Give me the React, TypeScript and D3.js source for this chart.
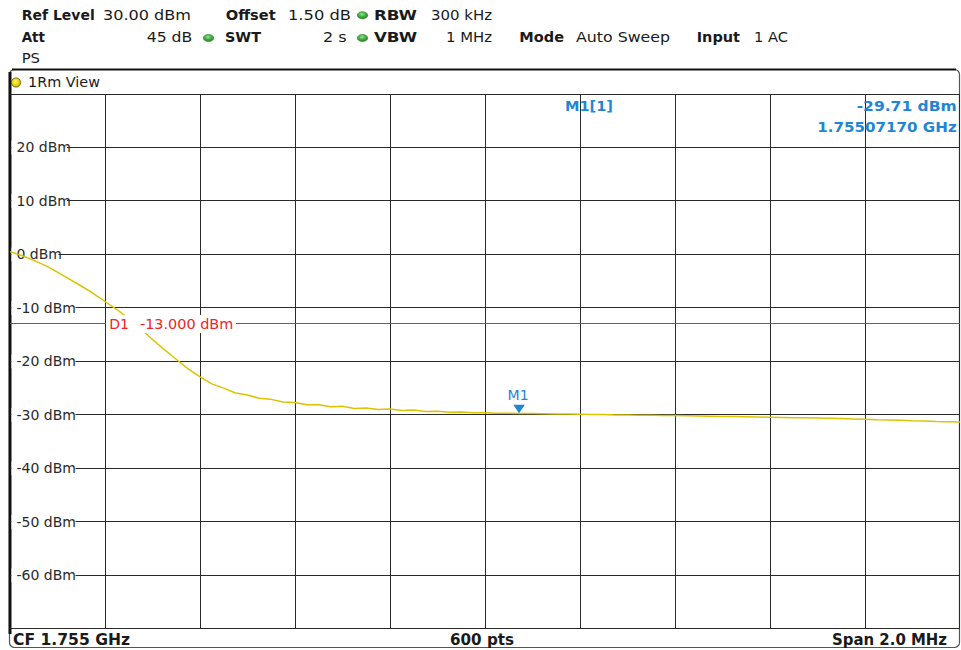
import React from "react";
import * as d3 from "d3";

// ---------- data ----------
const centerGHz = 1.755;
const spanMHz = 2.0;
const sweepPointsLabel = "600 pts";
const refLevel = 30;
const bottomLevel = -70;
const levels = [
  0.5, -0.2, -1.1, -2.1, -3.3, -4.6, -5.9, -7.3, -8.8, -10.3,
  -12.0, -13.9, -15.9, -17.8, -19.6, -21.4, -22.9, -24.2, -25.0, -25.9,
  -26.3, -26.9, -27.1, -27.6, -27.7, -28.1, -28.1, -28.5, -28.4, -28.8,
  -28.7, -29.0, -28.9, -29.2, -29.1, -29.35, -29.3, -29.5, -29.45, -29.6,
  -29.6, -29.7, -29.68, -29.72, -29.75, -29.8, -29.85, -29.85, -29.9, -29.95,
  -29.95, -30.0, -30.0, -30.05, -30.05, -30.1, -30.1, -30.15, -30.2, -30.25,
  -30.3, -30.3, -30.35, -30.4, -30.45, -30.5, -30.55, -30.55, -30.6, -30.65,
  -30.7, -30.75, -30.8, -30.9, -30.95, -31.0, -31.1, -31.15, -31.25, -31.3,
  -31.35,
];
const yTickValues = [20, 10, 0, -10, -20, -30, -40, -50, -60];
const displayLineLevel = -13;
const displayLineName = "D1";
const displayLineText = "-13.000 dBm";
const markerName = "M1";
const markerFreqGHz = 1.7550717;
const markerLevel = -29.71;
const markerReadout = ["M1[1]", "-29.71 dBm", "1.75507170 GHz"];
const headerLabels = ["Ref Level", "Offset", "RBW", "Att", "SWT", "VBW", "Mode", "Input", "PS"];
const headerValues = ["30.00 dBm", "1.50 dB", "300 kHz", "45 dB", "2 s", "1 MHz", "Auto Sweep", "1 AC"];
const windowTitle = "1Rm View";
const footer = ["CF 1.755 GHz", sweepPointsLabel, "Span 2.0 MHz"];

const FONT = "'DejaVu Sans', Verdana, sans-serif";
const FONT_C = "'DejaVu Sans Condensed', 'Liberation Sans Narrow', 'DejaVu Sans', sans-serif";
const BLUE = "#1f86d6";
const RED = "#f02424";
const TRACE = "#dcc300";

type TP = {
  x: number; y: number; w?: number; bold?: boolean; fill?: string; size?: number;
  anchor?: "start" | "middle" | "end"; family?: string; children: React.ReactNode;
};
const T = ({ x, y, w, bold, fill = "#1a1a1a", size = 14, anchor = "start", family = FONT, children }: TP) => (
  <text
    x={x}
    y={y}
    fontFamily={family}
    fontSize={size}
    fontWeight={bold ? "bold" : "normal"}
    fill={fill}
    textAnchor={anchor}
    textLength={w}
    lengthAdjust={w ? "spacingAndGlyphs" : undefined}
  >
    {children}
  </text>
);

const Dot = ({ cx, cy }: { cx: number; cy: number }) => (
  <ellipse cx={cx} cy={cy} rx={5.2} ry={3.6} fill="url(#greenDot)" stroke="#2e7d2e" strokeWidth={0.6} />
);

export default function App() {
  const W = 961, H = 650;
  const L = 10, R = 960, TOP = 94, BOT = 628.8;
  const spanGHz = spanMHz / 1000;
  const f0 = centerGHz - spanGHz / 2;
  const x = d3.scaleLinear().domain([f0, f0 + spanGHz]).range([L, R]);
  const y = d3.scaleLinear().domain([bottomLevel, refLevel]).range([BOT, TOP]);

  const pts = levels.map((l, i) => ({ f: f0 + (i * spanGHz) / (levels.length - 1), l }));
  const path = d3.line<{ f: number; l: number }>().x((d) => x(d.f)).y((d) => y(d.l))(pts) || "";

  const vGrid = d3.range(1, 10).map((i) => x(f0 + (i * spanGHz) / 10));
  const hGrid = d3.range(bottomLevel + 10, refLevel, 10);

  const mx = x(markerFreqGHz);
  const my = y(markerLevel);
  const dy = y(displayLineLevel);

  const row1 = 19.5, row2 = 42.3, row3 = 63.3;

  return (
    <div style={{ position: "fixed", left: 0, top: 0, width: W, height: H, background: "#fff" }}>
      <svg width={W} height={H} viewBox={`0 0 ${W} ${H}`} style={{ display: "block" }}>
        <defs>
          <radialGradient id="greenDot" cx="0.45" cy="0.35" r="0.7">
            <stop offset="0" stopColor="#9be09b" />
            <stop offset="0.5" stopColor="#3fae3f" />
            <stop offset="1" stopColor="#237a23" />
          </radialGradient>
          <radialGradient id="yellowDot" cx="0.45" cy="0.4" r="0.7">
            <stop offset="0" stopColor="#fff27a" />
            <stop offset="0.6" stopColor="#e6cf00" />
            <stop offset="1" stopColor="#b89f00" />
          </radialGradient>
          <clipPath id="plotClip">
            <rect x={L} y={TOP} width={R - L} height={BOT - TOP} />
          </clipPath>
        </defs>
        <rect x={0} y={0} width={W} height={H} fill="#fff" />

        {/* header */}
        <T x={21.7} y={row1} w={73} bold>{headerLabels[0]}</T>
        <T x={103} y={row1} w={88}>{headerValues[0]}</T>
        <T x={225.7} y={row1} w={50} bold>{headerLabels[1]}</T>
        <T x={288} y={row1} w={63}>{headerValues[1]}</T>
        <Dot cx={362.5} cy={15.3} />
        <T x={374} y={row1} w={43} bold>{headerLabels[2]}</T>
        <T x={431} y={row1} w={61}>{headerValues[2]}</T>

        <T x={21.7} y={row2} w={23.3} bold>{headerLabels[3]}</T>
        <T x={146.7} y={row2} w={45.6}>{headerValues[3]}</T>
        <Dot cx={208.5} cy={38} />
        <T x={225} y={row2} w={36} bold>{headerLabels[4]}</T>
        <T x={323} y={row2} w={23.7}>{headerValues[4]}</T>
        <Dot cx={362.5} cy={38} />
        <T x={374} y={row2} w={43} bold>{headerLabels[5]}</T>
        <T x={446} y={row2} w={46}>{headerValues[5]}</T>
        <T x={519.3} y={row2} w={44.7} bold>{headerLabels[6]}</T>
        <T x={576} y={row2} w={94}>{headerValues[6]}</T>
        <T x={696.7} y={row2} w={43.3} bold>{headerLabels[7]}</T>
        <T x={754} y={row2} w={34}>{headerValues[7]}</T>
        <T x={21.7} y={row3} w={18.3}>{headerLabels[8]}</T>

        {/* window frame */}
        <rect x={9.5} y={69.5} width={950} height={578} rx={5} fill="#fff" stroke="#555" strokeWidth={1.2} />
        <line x1={12} x2={956} y1={69.6} y2={69.6} stroke="#111" strokeWidth={2} />
        <line x1={10} x2={10} y1={72} y2={634} stroke="#111" strokeWidth={3} />
        <circle cx={16} cy={82.5} r={4.6} fill="url(#yellowDot)" stroke="#5a5000" strokeWidth={0.8} />
        <T x={28} y={87.3} w={72}>{windowTitle}</T>

        {/* grid */}
        <g stroke="#2a2a2a" strokeWidth={1} shapeRendering="crispEdges">
          {vGrid.map((gx, i) => (
            <line key={"v" + i} x1={gx} x2={gx} y1={TOP} y2={BOT} />
          ))}
          {hGrid.map((v) => (
            <line key={"h" + v} x1={L} x2={R} y1={y(v)} y2={y(v)} />
          ))}
          <line x1={L} x2={R} y1={TOP} y2={TOP} />
          <line x1={L} x2={R} y1={BOT} y2={BOT} />
          <line x1={R - 0.5} x2={R - 0.5} y1={TOP} y2={BOT} />
        </g>

        {/* y labels */}
        {yTickValues.map((v) => {
          const label = `${v} dBm`;
          const wEst = label.length * 8.5;
          return (
            <g key={"yl" + v}>
              <rect x={11.5} y={y(v) - 7} width={wEst + 4.5} height={14} fill="#fff" />
              <T x={16.5} y={y(v) + 5} fill="#2a2a2a">{label}</T>
            </g>
          );
        })}

        {/* display line */}
        <line x1={L} x2={R} y1={dy} y2={dy} stroke={RED} strokeWidth={1} shapeRendering="crispEdges" />

        {/* trace */}
        <path d={path} fill="none" stroke={TRACE} strokeWidth={1.5} strokeLinejoin="round" clipPath="url(#plotClip)" />

        {/* display line label */}
        <rect x={106} y={dy - 9} width={130} height={18} fill="#fff" />
        <T x={109.3} y={dy + 5} fill={RED}>{displayLineName}</T>
        <T x={140} y={dy + 5} w={93.3} fill={RED}>{displayLineText}</T>

        {/* marker */}
        <path d={`M${mx - 5.8},${my - 8.5}L${mx + 5.8},${my - 8.5}L${mx},${my}Z`} fill={BLUE} />
        <T x={mx - 1} y={400} anchor="middle" fill={BLUE}>{markerName}</T>

        {/* marker readout */}
        <T x={565} y={111} w={48} bold fill={BLUE}>{markerReadout[0]}</T>
        <T x={956.7} y={111} w={100} bold anchor="end" fill={BLUE}>{markerReadout[1]}</T>
        <T x={956.7} y={131.7} w={139.4} bold anchor="end" fill={BLUE}>{markerReadout[2]}</T>

        {/* footer */}
        <T x={13} y={645} w={117} size={15} family={FONT_C} bold>{footer[0]}</T>
        <T x={482} y={645} w={64} size={15} family={FONT_C} bold anchor="middle">{footer[1]}</T>
        <T x={947} y={645} w={115} size={15} family={FONT_C} bold anchor="end">{footer[2]}</T>
      </svg>
    </div>
  );
}
